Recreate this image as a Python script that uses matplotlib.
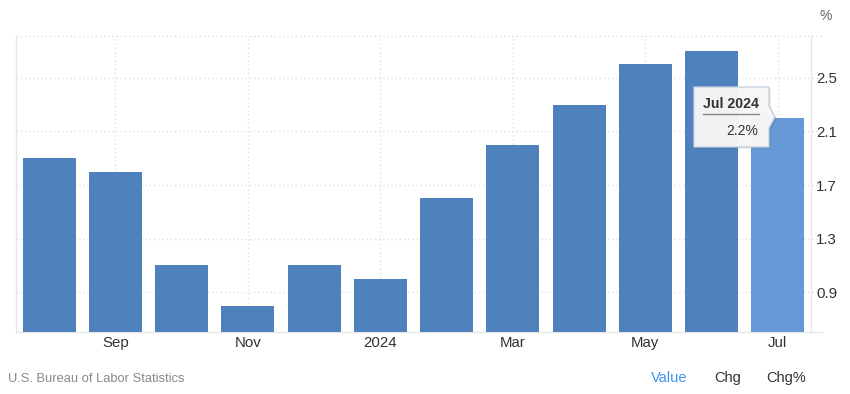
import matplotlib
matplotlib.use("Agg")
import matplotlib.pyplot as plt
from matplotlib.patches import Polygon
from matplotlib.lines import Line2D

plt.rcParams['font.family'] = ['Liberation Sans', 'DejaVu Sans']

months = ["Aug", "Sep", "Oct", "Nov", "Dec", "Jan", "Feb", "Mar", "Apr", "May", "Jun", "Jul"]
values = [1.9, 1.8, 1.1, 0.8, 1.1, 1.0, 1.6, 2.0, 2.3, 2.6, 2.7, 2.2]
xtick_idx = [1, 3, 5, 7, 9, 11]
xtick_labels = ["Sep", "Nov", "2024", "Mar", "May", "Jul"]
yticks = [0.9, 1.3, 1.7, 2.1, 2.5]
highlight_label = "Jul 2024"
highlight_value = "2.2%"

W, H = 850, 394
fig = plt.figure(figsize=(W / 100, H / 100), dpi=100)

def fx(px):
    return px / W

def fy(py):
    return 1 - py / H

ax_l, ax_r, ax_t, ax_b = 16, 811, 36, 332
ax = fig.add_axes([fx(ax_l), fy(ax_b), fx(ax_r) - fx(ax_l), fy(ax_t) - fy(ax_b)])

base_color = "#4f81bd"
hi_color = "#6699d5"
colors = [base_color] * (len(values) - 1) + [hi_color]
xs = list(range(len(values)))
ax.bar(xs, values, width=0.8, color=colors, zorder=3)

ax.set_xlim(-0.5, len(values) - 0.5)
ax.set_ylim(0.604, 2.811)

grid_color = "#dedede"
dot = (0, (1, 2))
ext = (822 - ax_l) / (ax_r - ax_l)
btrans = ax.get_yaxis_transform()
for yv in yticks:
    ax.add_line(Line2D([0, ext], [yv, yv], transform=btrans, color=grid_color,
                       lw=1, linestyle=dot, clip_on=False, zorder=1))
ax.add_line(Line2D([0, ext], [1, 1], transform=ax.transAxes, color=grid_color,
                   lw=1, linestyle=dot, clip_on=False, zorder=1))
for xi in xtick_idx:
    ax.axvline(xi, color=grid_color, lw=1, linestyle=dot, zorder=1)

ax.spines["top"].set_visible(False)
for s in ["left", "right", "bottom"]:
    ax.spines[s].set_color("#e6e6e6")
    ax.spines[s].set_linewidth(1)
ax.add_line(Line2D([1, ext], [0, 0], transform=ax.transAxes, color="#e6e6e6", lw=1,
                   clip_on=False))

ax.yaxis.tick_right()
ax.set_yticks(yticks)
ax.set_yticklabels([f"{v:.1f}" for v in yticks])
ax.tick_params(axis="y", length=0, pad=3.6, labelsize=10.8, labelcolor="#333333")
ax.set_xticks(xtick_idx)
ax.set_xticklabels(xtick_labels)
ax.tick_params(axis="x", length=0, pad=3.2, labelsize=10.8, labelcolor="#333333")

fig.text(fx(826), fy(16), "%", ha="center", va="center", fontsize=10, color="#666666")

fig.text(fx(8), fy(379), "U.S. Bureau of Labor Statistics", ha="left", va="center",
         fontsize=9.3, color="#888888")
fig.text(fx(651), fy(378), "Value", ha="left", va="center", fontsize=10.5, color="#3d95f0")
fig.text(fx(714), fy(378), "Chg", ha="left", va="center", fontsize=10.5, color="#333333")
fig.text(fx(766), fy(378), "Chg%", ha="left", va="center", fontsize=10.5, color="#333333")

def tip_pts(dx=0, dy=0):
    pts = [(694, 87), (769, 87), (769, 106), (775, 117), (769, 128), (769, 147), (694, 147)]
    return [(fx(x + dx), fy(y + dy)) for x, y in pts]

shadow = Polygon(tip_pts(1.5, 1.5), closed=True, transform=fig.transFigure,
                 facecolor="#000000", alpha=0.12, edgecolor="none", zorder=9)
fig.add_artist(shadow)
box = Polygon(tip_pts(), closed=True, transform=fig.transFigure,
              facecolor="#f7f7f7", edgecolor="#c5d0dd", lw=1, alpha=0.97, zorder=10,
              joinstyle="round")
fig.add_artist(box)
fig.text(fx(731), fy(104), highlight_label, ha="center", va="center", fontsize=10.2,
         fontweight="bold", color="#333333", zorder=11)
fig.add_artist(Line2D([fx(703), fx(759)], [fy(113.5), fy(113.5)], transform=fig.transFigure,
                      color="#888888", lw=1, zorder=11))
fig.text(fx(758), fy(131), highlight_value, ha="right", va="center", fontsize=10,
         color="#333333", zorder=11)

fig.savefig("out.png", dpi=100)
